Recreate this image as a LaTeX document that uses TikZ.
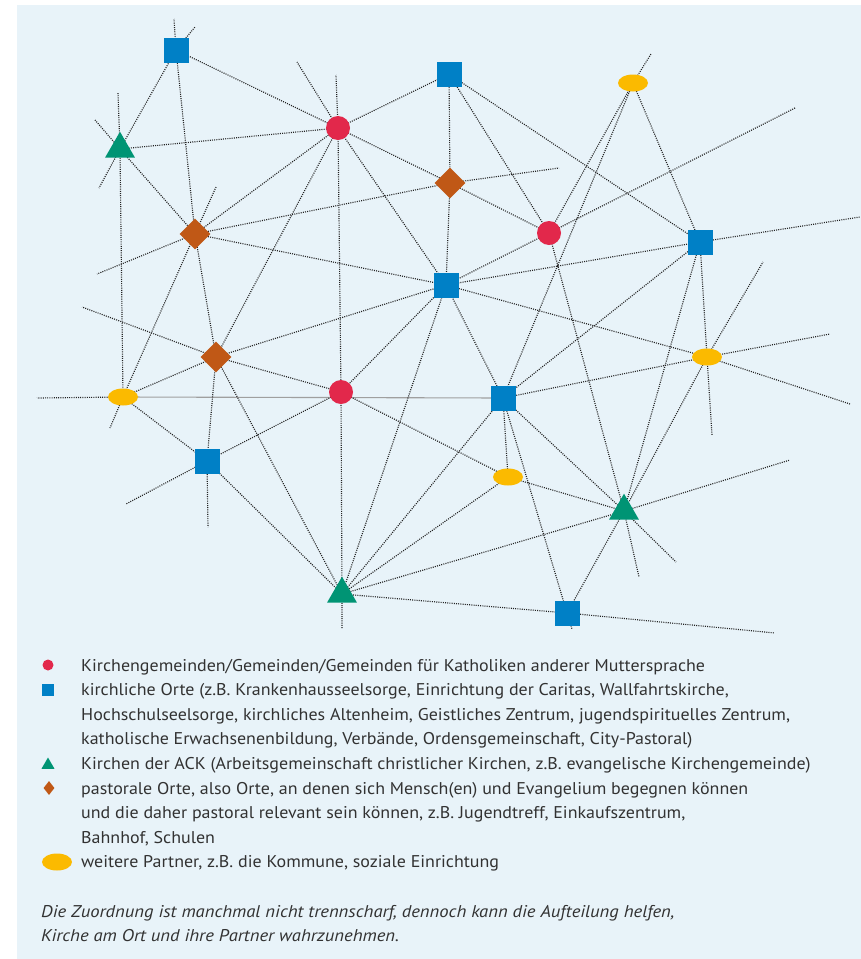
\documentclass[tikz,border=0pt]{standalone}
\usepackage{fontspec}
\setmainfont[UprightFeatures={FakeStretch=1.057},ItalicFeatures={FakeStretch=1.095}]{PT Sans}
\usetikzlibrary{shapes.geometric}
\pgfdeclarelayer{bgl}
\pgfdeclarelayer{edl}
\pgfsetlayers{bgl,edl,main}
\definecolor{bgblue}{RGB}{232,243,249}
\definecolor{mred}{RGB}{226,40,75}
\definecolor{mblue}{RGB}{0,128,198}
\definecolor{mgreen}{RGB}{0,148,116}
\definecolor{morange}{RGB}{192,88,22}
\definecolor{myellow}{RGB}{251,186,0}
\definecolor{edgecol}{RGB}{35,35,35}
\definecolor{txtcol}{RGB}{50,50,50}
\tikzset{
  sqn/.style={rectangle, fill=mblue, minimum size=25pt, inner sep=0pt},
  cirn/.style={circle, fill=mred, minimum size=24pt, inner sep=0pt},
  trin/.style={regular polygon, regular polygon sides=3, fill=mgreen, minimum size=34.6pt, inner sep=0pt},
  dian/.style={diamond, fill=morange, minimum width=31pt, minimum height=31pt, inner sep=0pt},
  elln/.style={ellipse, fill=myellow, minimum width=30pt, minimum height=17pt, inner sep=0pt},
  link/.style={draw=edgecol, line width=1.15pt, dash pattern=on 1pt off 1.2pt},
  solidlink/.style={draw=gray!75, line width=1.1pt},
  legtext/.style={anchor=base west, inner sep=0pt, text=txtcol, font=\fontsize{17}{20}\selectfont},
  legital/.style={legtext, font=\fontsize{17}{20}\selectfont\itshape}
}
\begin{document}
\begin{tikzpicture}[x=1pt,y=-1pt]
\useasboundingbox (0,0) rectangle (861,959);
\begin{pgfonlayer}{bgl}
\fill[white] (0,0) rectangle (861,959);
\fill[bgblue] (17,5) rectangle (861,959);
\end{pgfonlayer}
% nodes
\node[sqn] (S1) at (176,50) {};
\node[sqn] (S2) at (449,74) {};
\node[elln] (E1) at (633,83) {};
\node[trin] (T1) at (120,149) {};
\node[cirn] (C1) at (338,128) {};
\node[dian] (D1) at (450,183) {};
\node[dian] (D2) at (195,234) {};
\node[cirn] (C2) at (549,233) {};
\node[sqn] (S3) at (700,242) {};
\node[sqn] (S4) at (446,285) {};
\node[dian] (D3) at (216,357) {};
\node[elln] (E2) at (707,357) {};
\node[elln] (E3) at (123,397) {};
\node[cirn] (C3) at (341,392) {};
\node[sqn] (S5) at (503,398) {};
\node[sqn] (S6) at (207,461) {};
\node[elln] (E4) at (508,477) {};
\node[trin] (T2) at (624,511) {};
\node[trin] (T3) at (342,594) {};
\node[sqn] (S7) at (567,613) {};
% stub ends
\coordinate (a1) at (174,19);
\coordinate (a2) at (195,27);
\coordinate (b1) at (118,93);
\coordinate (b2) at (95,120);
\coordinate (b3) at (99,188);
\coordinate (c1) at (216,187);
\coordinate (c2) at (97,274);
\coordinate (d1) at (297,62);
\coordinate (d2) at (336,75);
\coordinate (e1) at (559,168);
\coordinate (f1) at (795,108);
\coordinate (g1) at (651,54);
\coordinate (h1) at (860,217);
\coordinate (i1) at (763,262);
\coordinate (i2) at (830,334);
\coordinate (i3) at (850,404);
\coordinate (i4) at (712,435);
\coordinate (j1) at (82,307);
\coordinate (k1) at (37,398);
\coordinate (k2) at (110,428);
\coordinate (l1) at (126,504);
\coordinate (l2) at (208,527);
\coordinate (m1) at (342,628);
\coordinate (n1) at (790,460);
\coordinate (n2) at (676,562);
\coordinate (n3) at (639,577);
\coordinate (o1) at (775,633);
\coordinate (o2) at (572,629);
\begin{pgfonlayer}{edl}
\draw[solidlink] (E3.center) -- (S5.center);
\draw[link] (S1.center) -- (T1.center) (S1.center) -- (D2.center) (S1.center) -- (C1.center) (S1.center) -- (a1) (S1.center) -- (a2);
\draw[link] (T1.center) -- (C1.center) (T1.center) -- (D2.center) (T1.center) -- (E3.center) (T1.center) -- (b1) (T1.center) -- (b2) (T1.center) -- (b3);
\draw[link] (D2.center) -- (C1.center) (D2.center) -- (D1.center) (D2.center) -- (S4.center) (D2.center) -- (D3.center) (D2.center) -- (E3.center) (D2.center) -- (c1) (D2.center) -- (c2);
\draw[link] (C1.center) -- (S2.center) (C1.center) -- (D1.center) (C1.center) -- (D3.center) (C1.center) -- (C3.center) (C1.center) -- (S4.center) (C1.center) -- (d1) (C1.center) -- (d2);
\draw[link] (S2.center) -- (D1.center) (S2.center) -- (C2.center) (S2.center) -- (S3.center);
\draw[link] (D1.center) -- (C2.center) (D1.center) -- (S4.center) (D1.center) -- (e1);
\draw[link] (C2.center) -- (E1.center) (C2.center) -- (S4.center) (C2.center) -- (T2.center) (C2.center) -- (f1);
\draw[link] (E1.center) -- (S5.center) (E1.center) -- (S3.center) (E1.center) -- (g1);
\draw[link] (S3.center) -- (S4.center) (S3.center) -- (S5.center) (S3.center) -- (E2.center) (S3.center) -- (T2.center) (S3.center) -- (h1);
\draw[link] (S4.center) -- (E2.center) (S4.center) -- (D3.center) (S4.center) -- (C3.center) (S4.center) -- (T3.center) (S4.center) -- (S5.center);
\draw[link] (E2.center) -- (S5.center) (E2.center) -- (T2.center) (E2.center) -- (i1) (E2.center) -- (i2) (E2.center) -- (i3) (E2.center) -- (i4);
\draw[link] (D3.center) -- (C3.center) (D3.center) -- (T3.center) (D3.center) -- (S6.center) (D3.center) -- (E3.center) (D3.center) -- (j1);
\draw[link] (C3.center) -- (T3.center) (C3.center) -- (S6.center) (C3.center) -- (E4.center);
\draw[link] (E3.center) -- (k1) (E3.center) -- (k2) (E3.center) -- (S6.center);
\draw[link] (S6.center) -- (T3.center) (S6.center) -- (l1) (S6.center) -- (l2);
\draw[link] (T3.center) -- (S5.center) (T3.center) -- (E4.center) (T3.center) -- (T2.center) (T3.center) -- (S7.center) (T3.center) -- (m1);
\draw[link] (S5.center) -- (E4.center) (S5.center) -- (T2.center) (S5.center) -- (S7.center);
\draw[link] (E4.center) -- (T2.center);
\draw[link] (T2.center) -- (S7.center) (T2.center) -- (n1) (T2.center) -- (n2) (T2.center) -- (n3);
\draw[link] (S7.center) -- (o1) (S7.center) -- (o2);
\end{pgfonlayer}
% legend
\node[cirn, minimum size=11pt] (lc) at (48,665) {};
\node[sqn, minimum size=12pt] (ls) at (48,690) {};
\node[trin, minimum size=15pt] (lt) at (48,765) {};
\node[dian, minimum width=11pt, minimum height=14pt] (ld) at (49,788) {};
\node[elln, minimum width=30pt, minimum height=17pt] (le) at (57,862) {};
\node[legtext] (t1) at (81,671) {Kirchengemeinden/Gemeinden/Gemeinden für Katholiken anderer Muttersprache};
\node[legtext] (t2) at (81,695.6) {kirchliche Orte (z.B. Krankenhausseelsorge, Einrichtung der Caritas, Wallfahrtskirche,};
\node[legtext] (t3) at (81,720.2) {Hochschulseelsorge, kirchliches Altenheim, Geistliches Zentrum, jugendspirituelles Zentrum,};
\node[legtext] (t4) at (81,744.8) {katholische Erwachsenenbildung, Verbände, Ordensgemeinschaft, City-Pastoral)};
\node[legtext] (t5) at (81,769.4) {Kirchen der ACK (Arbeitsgemeinschaft christlicher Kirchen, z.B. evangelische Kirchengemeinde)};
\node[legtext] (t6) at (81,794) {pastorale Orte, also Orte, an denen sich Mensch(en) und Evangelium begegnen können};
\node[legtext] (t7) at (81,818.6) {und die daher pastoral relevant sein können, z.B. Jugendtreff, Einkaufszentrum,};
\node[legtext] (t8) at (81,843.2) {Bahnhof, Schulen};
\node[legtext] (t9) at (81,867.8) {weitere Partner, z.B. die Kommune, soziale Einrichtung};
\node[legital] (t10) at (41,917) {Die Zuordnung ist manchmal nicht trennscharf, dennoch kann die Aufteilung helfen,};
\node[legital] (t11) at (41,941.6) {Kirche am Ort und ihre Partner wahrzunehmen.};
\end{tikzpicture}
\end{document}
